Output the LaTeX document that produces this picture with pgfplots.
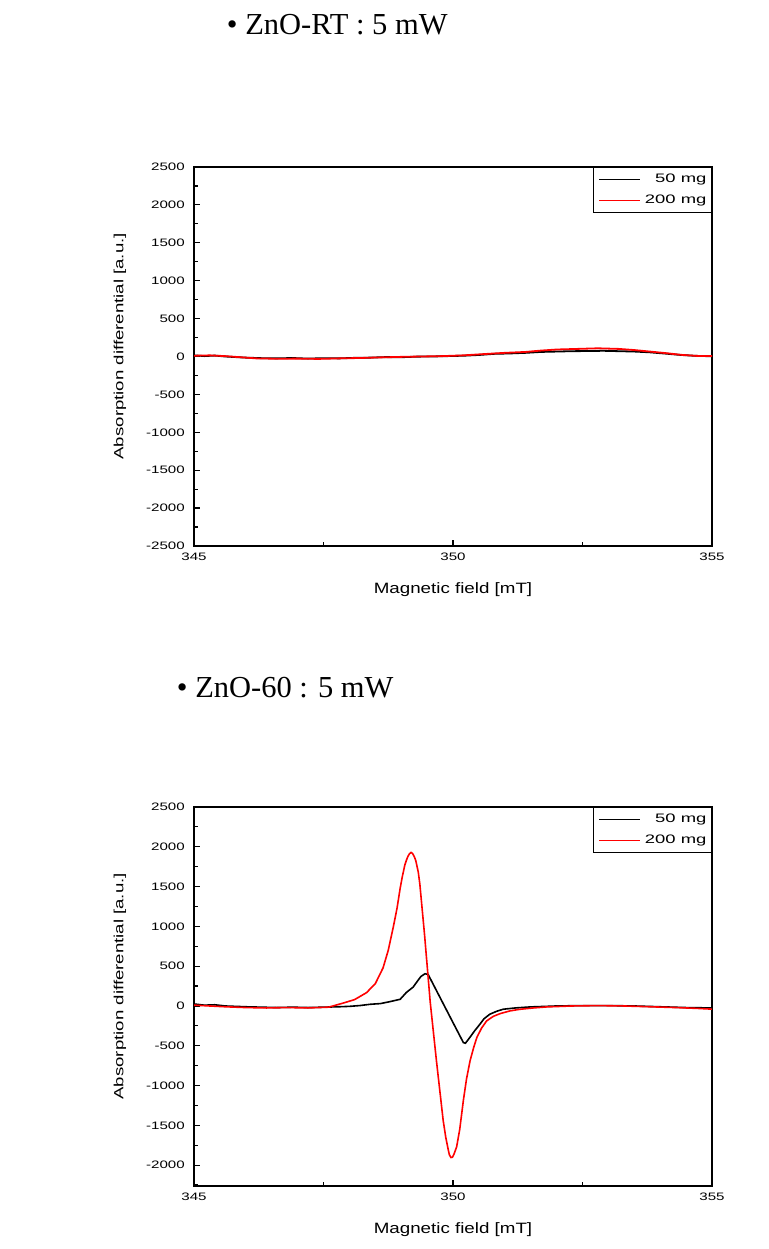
\documentclass[border=0pt]{standalone}
\usepackage{fontspec}
\setmainfont{Liberation Serif}
\newfontfamily\tickfont[FakeStretch=1.4]{Liberation Sans}
\newfontfamily\labfont[FakeStretch=1.25]{Liberation Sans}
\newfontfamily\ylabfont[FakeStretch=1.4]{Liberation Sans}
\newfontfamily\legfont[FakeStretch=1.5]{Liberation Sans}
\usepackage{pgfplots}
\pgfplotsset{compat=1.18}

\pgfplotsset{
  esr/.style={
    scale only axis, width=518pt, height=379pt,
    xmin=345, xmax=355, xtick={345,350,355}, minor x tick num=1,
    ytick={-2500,-2000,...,2500}, minor y tick num=1,
    tick align=inside, xtick pos=left, ytick pos=left,
    major tick length=6pt, minor tick length=3.5pt,
    axis line style={line width=1.6pt},
    every tick/.style={line width=1.2pt, black},
    /pgf/number format/assume math mode=true,
    /pgf/number format/1000 sep={},
    scaled ticks=false,
    ticklabel style={font=\tickfont\fontsize{10.8}{12}\selectfont},
    yticklabel style={inner sep=0pt, xshift=-9pt, anchor=east},
    xticklabel style={inner sep=0pt, yshift=-7pt, anchor=north},
    xlabel={Magnetic field [mT]},
    ylabel={Absorption differential [a.u.]},
    every axis x label/.style={at={(axis description cs:0.5,-0.116)}, anchor=center,
      font=\labfont\fontsize{15}{18}\selectfont},
    every axis y label/.style={at={(axis description cs:-0.1429,0.527)}, rotate=90, anchor=center,
      font=\ylabfont\fontsize{13.3}{16}\selectfont},
    legend image code/.code={\draw[#1, line width=1pt] (0pt,0pt) -- (41pt,0pt);},
    legend style={
      at={(rel axis cs:1,1)}, anchor=north east,
      draw=black, line width=1.2pt, fill=white,
      font=\legfont\fontsize{12.3}{14}\selectfont,
      inner xsep=5pt, inner ysep=6pt,
      column sep=4pt, row sep=9pt,
      nodes={inner sep=0pt, text height=9pt, text depth=3pt},
    },
    legend cell align=right,
  }
}

\begin{document}
\begin{tikzpicture}[x=1pt,y=1pt]
\path[use as bounding box] (0,0) rectangle (768,1249);

\node[anchor=base west, inner sep=0pt, font=\fontsize{30.5}{36}\selectfont] at (226.75,1214) {• ZnO-RT : 5 mW};
\node[anchor=base west, inner sep=0pt, font=\fontsize{30.5}{36}\selectfont] at (176.75,551) {• ZnO-60 : 5 mW};

% ---------- top: ZnO-RT ----------
\begin{axis}[esr, at={(194pt,703pt)}, anchor=south west, ymin=-2500, ymax=2500]
\addplot[black, line width=1.8pt] coordinates {
(345.0,15) (345.2,5) (345.4,12) (345.6,0) (345.8,-8) (346.0,-15) (346.3,-22) (346.6,-25)
(346.9,-20) (347.2,-28) (347.5,-22) (347.8,-25) (348.1,-18) (348.4,-15) (348.7,-8) (349.0,-10)
(349.3,-2) (349.6,0) (349.9,5) (350.2,10) (350.5,20) (350.8,35) (351.1,40) (351.4,48)
(351.7,60) (352.0,65) (352.3,70) (352.6,72) (352.9,75) (353.2,70) (353.5,65) (353.8,55)
(354.1,38) (354.4,20) (354.7,8) (355.0,3)
};
\addplot[red, line width=1.8pt] coordinates {
(345.0,10) (345.3,15) (345.6,5) (345.9,-10) (346.2,-25) (346.6,-30) (347.0,-28) (347.4,-32)
(347.8,-25) (348.2,-20) (348.6,-12) (349.0,-5) (349.4,0) (349.8,5) (350.2,15) (350.6,32)
(351.0,48) (351.4,60) (351.7,78) (352.0,92) (352.4,100) (352.8,108) (353.2,100) (353.5,85)
(353.8,65) (354.1,45) (354.4,22) (354.7,8) (355.0,5)
};
\legend{50 mg, 200 mg}
\end{axis}

% ---------- bottom: ZnO-60 ----------
\begin{axis}[esr, at={(194pt,63pt)}, anchor=south west, ymin=-2262, ymax=2500]
\addplot[black, line width=1.6pt] coordinates {
(345.0,25) (345.2,10) (345.4,15) (345.6,0) (345.8,-5) (346.0,-10) (346.3,-15) (346.6,-20)
(346.9,-15) (347.2,-20) (347.5,-15) (347.8,-10) (348.0,-5) (348.2,5) (348.4,21) (348.6,30)
(348.78,54) (348.98,84) (349.1,170) (349.23,237) (349.3,300) (349.38,370) (349.46,405)
(349.52,395) (349.6,295) (349.7,169) (349.8,43) (349.9,-83) (350.0,-209) (350.1,-334)
(350.2,-460) (350.24,-468) (350.32,-400) (350.42,-310) (350.52,-229) (350.6,-160)
(350.71,-104) (350.85,-65) (350.97,-41) (351.2,-25) (351.49,-12) (351.8,-5) (352.0,0)
(352.5,5) (353.0,5) (353.5,0) (354.0,-10) (354.5,-20) (355.0,-25)
};
\addplot[red, line width=1.6pt] coordinates {
(345.0,10) (345.3,0) (345.6,-10) (346.0,-20) (346.4,-25) (346.8,-20) (347.2,-25) (347.6,-15)
(347.9,40) (348.1,80) (348.33,167) (348.5,280) (348.65,479) (348.75,700) (348.85,1000)
(348.92,1230) (348.98,1479) (349.02,1620) (349.07,1771) (349.1,1830) (349.13,1880)
(349.16,1912) (349.19,1929) (349.22,1915) (349.25,1880) (349.28,1830) (349.30,1771)
(349.33,1680) (349.36,1530) (349.40,1250) (349.45,900) (349.56,50) (349.68,-687)
(349.81,-1437) (349.86,-1650) (349.91,-1812) (349.93,-1870) (349.96,-1904) (349.99,-1900)
(350.02,-1860) (350.07,-1771) (350.13,-1550) (350.20,-1187) (350.26,-920) (350.33,-687)
(350.40,-520) (350.46,-396) (350.55,-280) (350.65,-187) (350.78,-130) (350.91,-96)
(351.1,-62) (351.29,-42) (351.55,-25) (351.81,-12) (352.3,0) (352.8,5) (353.3,0)
(353.8,-10) (354.3,-20) (354.7,-30) (355.0,-40)
};
\legend{50 mg, 200 mg}
\end{axis}
\end{tikzpicture}
\end{document}
